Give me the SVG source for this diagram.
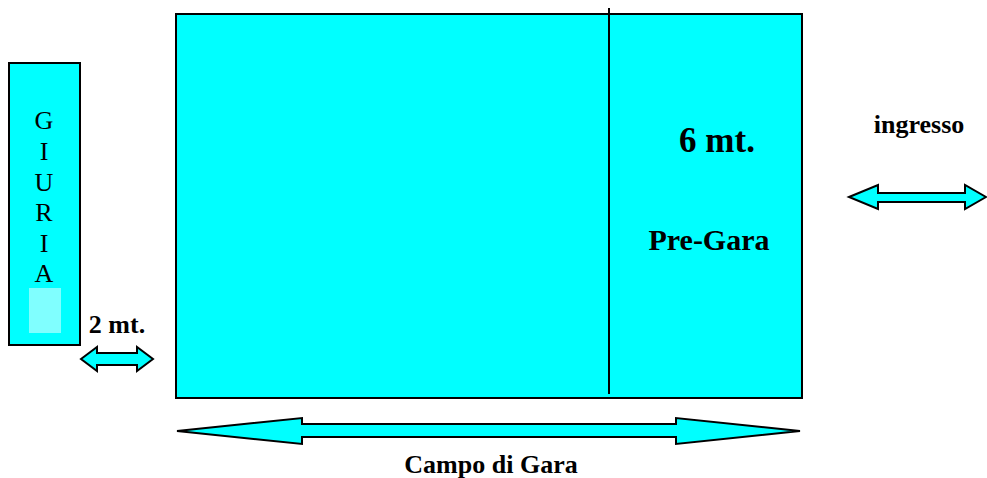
<svg xmlns="http://www.w3.org/2000/svg" width="987" height="478" viewBox="0 0 987 478">
<style>
.box{fill:#00ffff;stroke:#000;stroke-width:2}
.arr{fill:#00ffff;stroke:#000;stroke-width:2;stroke-linejoin:miter}
.t{font-family:"Liberation Serif","Times New Roman",serif;font-size:26px;fill:#000}
.b{font-weight:bold}
</style>
<rect width="987" height="478" fill="#fff"/>
<g id="campo">
<rect class="box" x="176" y="14" width="626" height="384"/>
<line x1="609" y1="8" x2="609" y2="394" stroke="#000" stroke-width="2"/>
<text class="t b" x="717" y="152" text-anchor="middle" style="font-size:35px">6 mt.</text>
<text class="t b" x="709" y="250" text-anchor="middle" style="font-size:30px">Pre-Gara</text>
</g>
<g id="giuria">
<rect class="box" x="9" y="63" width="71" height="282"/>
<rect x="29" y="288" width="32" height="45" fill="#80ffff"/>
<text class="t" x="44" y="129" text-anchor="middle">G</text>
<text class="t" x="44" y="160" text-anchor="middle">I</text>
<text class="t" x="44" y="191" text-anchor="middle">U</text>
<text class="t" x="44" y="221" text-anchor="middle">R</text>
<text class="t" x="44" y="252" text-anchor="middle">I</text>
<text class="t" x="44" y="282" text-anchor="middle">A</text>
</g>
<g id="labels">
<text class="t b" x="117" y="333" text-anchor="middle">2 mt.</text>
<text class="t b" x="919" y="133" text-anchor="middle">ingresso</text>
<text class="t b" x="491" y="473" text-anchor="middle">Campo di Gara</text>
</g>
<g id="connectors">
<polygon class="arr" points="177,431 302,418 302,424 676,424 676,418 800,431 676,444 676,437 302,437 302,444"/>
<polygon class="arr" points="81,359 97,347 97,353 137,353 137,347 153,359 137,371 137,365 97,365 97,371"/>
<polygon class="arr" points="849,197 878,185 878,193 965,193 965,185 986,197 965,209 965,202 878,202 878,209"/>
</g>
</svg>
